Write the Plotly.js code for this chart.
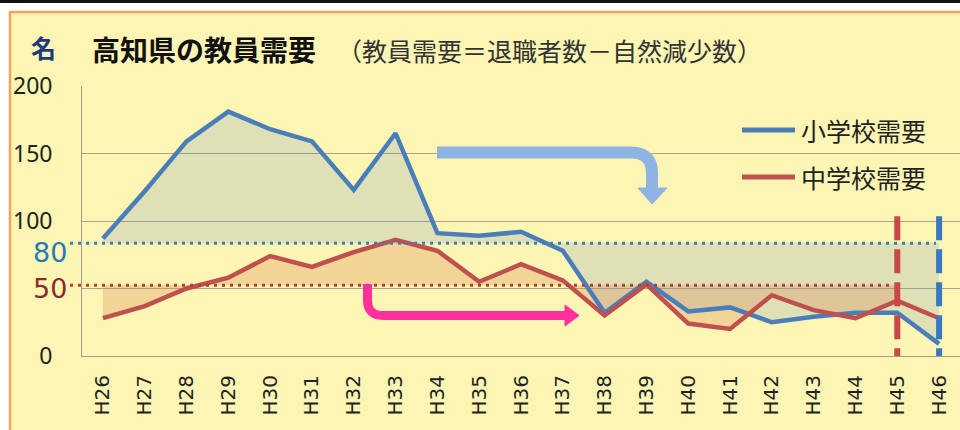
<!DOCTYPE html>
<html>
<head>
<meta charset="utf-8">
<script src="https://cdn.plot.ly/plotly-3.0.1.min.js"></script>
<style>html,body{margin:0;padding:0;background:#fff;}#chart{width:960px;height:430px;}</style>
</head>
<body>
<div id="chart"></div>
<script>
// ---- data ----
const categories = ['H26','H27','H28','H29','H30','H31','H32','H33','H34','H35','H36','H37','H38','H39','H40','H41','H42','H43','H44','H45','H46'];
const elementary = [87,122,159,181,168,159,123,165,91,89,92,78,32,55,33,36,25,29,32,32,9];
const juniorHigh = [28,37,50,58,74,66,77,86,78,55,68,56,30,53,24,20,45,34,28,41,28];
const seriesNames = ['小学校需要','中学校需要'];
const blueRef = 83.5;   // dotted "80" guide
const redRef = 52.5;    // dotted "50" guide
const yTickVals = [0,50,100,150,200];
const yTickText = ['0','','100','150','200'];

// ---- geometry helpers (pixel -> paper) ----
const L = 82, R = 960, T = 86, B = 356;
const X = p => (p - L) / (R - L);
const Y = p => (B - p) / (B - T);

const blueC = '#4a7ebb', redC = '#c0504d';
const cjk = '"Noto Sans CJK JP", "Noto Sans CJK SC", sans-serif';
const pad = '&nbsp;&nbsp;&nbsp;&nbsp;';

const redN = categories.length - 1; // red fill stops at H45
const traces = [
  {x: categories, y: categories.map(() => blueRef), mode: 'lines', line: {width: 0}, hoverinfo: 'skip', showlegend: false},
  {x: categories, y: elementary, mode: 'lines', line: {width: 0}, fill: 'tonexty', fillcolor: 'rgba(79,129,189,0.17)', hoverinfo: 'skip', showlegend: false},
  {x: categories.slice(0, redN), y: categories.slice(0, redN).map(() => redRef), mode: 'lines', line: {width: 0}, hoverinfo: 'skip', showlegend: false},
  {x: categories.slice(0, redN), y: juniorHigh.slice(0, redN), mode: 'lines', line: {width: 0}, fill: 'tonexty', fillcolor: 'rgba(222,135,85,0.30)', hoverinfo: 'skip', showlegend: false},
  {x: categories, y: elementary, name: seriesNames[0], mode: 'lines', line: {color: blueC, width: 4.5}, showlegend: false},
  {x: categories, y: juniorHigh, name: seriesNames[1], mode: 'lines', line: {color: redC, width: 4.5}, showlegend: false}
];

const shapes = [
  // frame
  {type: 'rect', xref: 'paper', yref: 'paper', x0: X(-5), x1: X(970), y0: Y(-5), y1: Y(11), fillcolor: '#ffffff', line: {width: 0}, layer: 'below'},
  {type: 'rect', xref: 'paper', yref: 'paper', x0: X(-5), x1: X(9), y0: Y(-5), y1: Y(440), fillcolor: '#ffffff', line: {width: 0}, layer: 'below'},
  {type: 'line', xref: 'paper', yref: 'paper', x0: X(0), x1: X(960), y0: Y(1.5), y1: Y(1.5), line: {color: '#111', width: 3}},
  {type: 'line', xref: 'paper', yref: 'paper', x0: X(9), x1: X(962), y0: Y(12), y1: Y(12), line: {color: '#f2a35e', width: 2.5}},
  {type: 'line', xref: 'paper', yref: 'paper', x0: X(10), x1: X(10), y0: Y(11), y1: Y(432), line: {color: '#f2a35e', width: 2.5}},
  // dotted guides
  {type: 'line', xref: 'paper', yref: 'y', x0: X(70), x1: X(936), y0: blueRef, y1: blueRef, line: {color: '#3a7fc1', width: 3, dash: '3px,5px'}},
  {type: 'line', xref: 'paper', yref: 'y', x0: X(70), x1: X(889), y0: redRef, y1: redRef, line: {color: '#b2403d', width: 3, dash: '3px,5px'}},
  // vertical dashed
  {type: 'line', xref: 'x', yref: 'y', x0: 'H45', x1: 'H45', y0: 103.5, y1: 0, line: {color: '#c8484a', width: 6, dash: '24px,9px'}},
  {type: 'line', xref: 'x', yref: 'y', x0: 'H46', x1: 'H46', y0: 103.5, y1: 0, line: {color: '#3b78c4', width: 6, dash: '24px,9px'}},
  // blue bent arrow
  {type: 'path', xref: 'paper', yref: 'paper', path: `M ${X(437)},${Y(152.5)} L ${X(631)},${Y(152.5)} Q ${X(652)},${Y(152.5)} ${X(652)},${Y(173)} L ${X(652)},${Y(190)}`, line: {color: '#8eb4e3', width: 12}},
  {type: 'path', xref: 'paper', yref: 'paper', path: `M ${X(638)},${Y(188)} L ${X(667)},${Y(188)} L ${X(652)},${Y(204)} Z`, fillcolor: '#8eb4e3', line: {color: '#8eb4e3', width: 1}},
  // pink bent arrow
  {type: 'path', xref: 'paper', yref: 'paper', path: `M ${X(367.5)},${Y(284)} L ${X(367.5)},${Y(300)} Q ${X(367.5)},${Y(315.5)} ${X(383)},${Y(315.5)} L ${X(567)},${Y(315.5)}`, line: {color: '#ff309c', width: 9}},
  {type: 'path', xref: 'paper', yref: 'paper', path: `M ${X(565)},${Y(305)} L ${X(565)},${Y(326)} L ${X(579)},${Y(315.5)} Z`, fillcolor: '#ff309c', line: {color: '#ff309c', width: 1}},
  // legend samples
  {type: 'line', xref: 'paper', yref: 'paper', x0: X(742), x1: X(795), y0: Y(130), y1: Y(130), line: {color: blueC, width: 5}},
  {type: 'line', xref: 'paper', yref: 'paper', x0: X(742), x1: X(795), y0: Y(177), y1: Y(177), line: {color: redC, width: 5}}
];

const ann = (txt, x, y, opts) => Object.assign({text: txt, xref: 'paper', yref: 'paper', x: X(x), y: Y(y), showarrow: false, xanchor: 'left', yanchor: 'middle'}, opts);
const annotations = [
  ann('<b>名</b>', 43, 47, {xanchor: 'center', font: {family: cjk, size: 25, color: '#1f3b7d'}}),
  ann('<b>高知県の教員需要</b>', 90, 49, {font: {family: cjk, size: 28, color: '#111'}}),
  ann('（教員需要＝退職者数－自然減少数）', 335, 50, {font: {family: cjk, size: 25, color: '#333'}}),
  ann('80', 69, 252, {xanchor: 'right', font: {family: '"DejaVu Sans", sans-serif', size: 27, color: '#2a7ab8'}}),
  ann('50', 69, 288, {xanchor: 'right', font: {family: '"DejaVu Sans", sans-serif', size: 27, color: '#8b2c2a'}}),
  ann(seriesNames[0], 799, 130, {font: {family: cjk, size: 25, color: '#222'}}),
  ann(seriesNames[1], 799, 177, {font: {family: cjk, size: 25, color: '#222'}})
];

const layout = {
  width: 960, height: 430,
  margin: {l: L, r: 960 - R, t: T, b: 430 - B, pad: 0},
  paper_bgcolor: '#fcf5b4',
  plot_bgcolor: 'rgba(0,0,0,0)',
  showlegend: false,
  xaxis: {
    type: 'category', range: [-0.5, categories.length - 0.5],
    tickangle: -90, ticks: '', showgrid: false, zeroline: false,
    showline: true, linecolor: '#a3a08a', linewidth: 1,
    tickfont: {family: '"DejaVu Sans", sans-serif', size: 20, color: '#222'},
    ticklabelstandoff: 10, fixedrange: true
  },
  yaxis: {
    range: [0, 200], tickvals: yTickVals, ticktext: yTickText.map(t => t + pad),
    showgrid: true, gridcolor: '#a8a58c', gridwidth: 1, zeroline: false,
    showline: true, linecolor: '#a3a08a', linewidth: 1, ticks: '',
    tickfont: {family: '"Noto Sans", sans-serif', size: 23, color: '#222'},
    fixedrange: true
  },
  shapes: shapes,
  annotations: annotations
};

Plotly.newPlot('chart', traces, layout, {displayModeBar: false, staticPlot: true});
</script>
</body>
</html>
